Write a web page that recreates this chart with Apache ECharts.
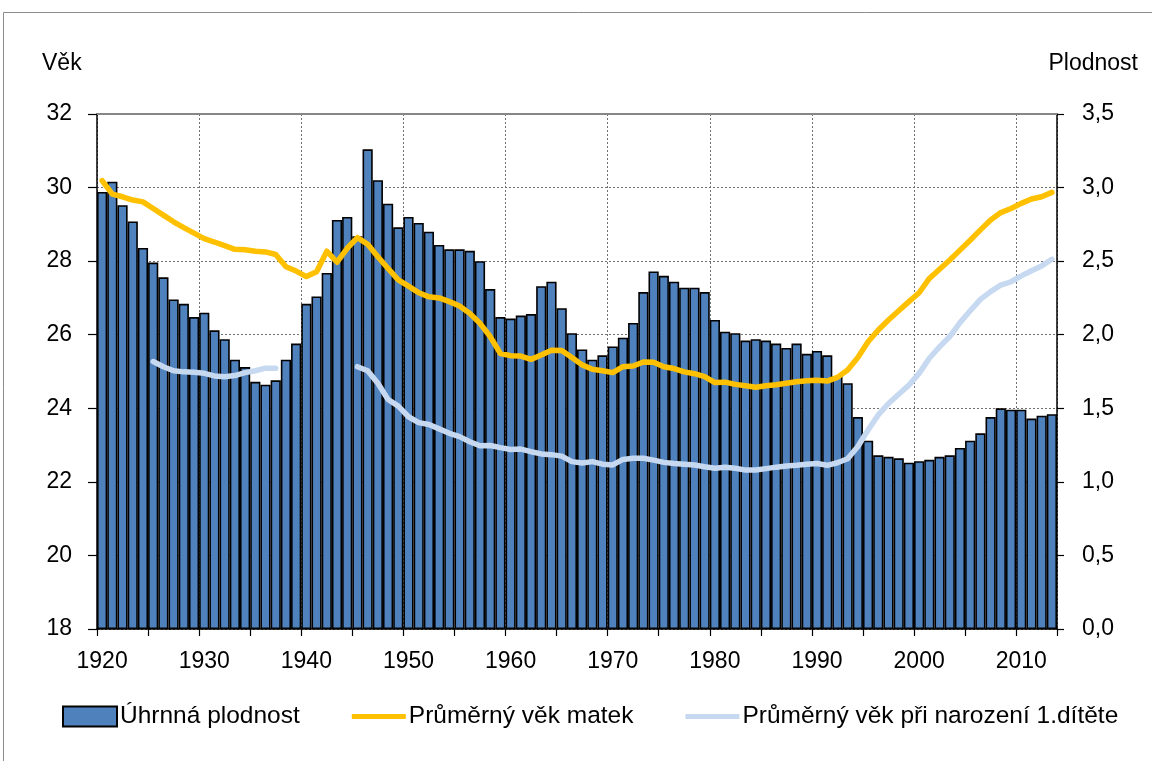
<!DOCTYPE html>
<html>
<head>
<meta charset="utf-8">
<script src="https://cdn.jsdelivr.net/npm/echarts@6/dist/echarts.min.js"></script>
<style>
html,body{margin:0;padding:0;background:#fff;}
#chart{width:1152px;height:761px;}
</style>
</head>
<body>
<div id="chart"></div>
<script>
var years = ["1920","1921","1922","1923","1924","1925","1926","1927","1928","1929",
"1930","1931","1932","1933","1934","1935","1936","1937","1938","1939",
"1940","1941","1942","1943","1944","1945","1946","1947","1948","1949",
"1950","1951","1952","1953","1954","1955","1956","1957","1958","1959",
"1960","1961","1962","1963","1964","1965","1966","1967","1968","1969",
"1970","1971","1972","1973","1974","1975","1976","1977","1978","1979",
"1980","1981","1982","1983","1984","1985","1986","1987","1988","1989",
"1990","1991","1992","1993","1994","1995","1996","1997","1998","1999",
"2000","2001","2002","2003","2004","2005","2006","2007","2008","2009",
"2010","2011","2012","2013"];

var uhrnnaPlodnost = [2.97,3.04,2.88,2.77,2.59,2.49,2.39,2.24,2.21,2.12,
2.15,2.03,1.97,1.83,1.78,1.68,1.66,1.69,1.83,1.94,
2.21,2.26,2.42,2.78,2.80,2.67,3.26,3.05,2.89,2.73,
2.80,2.76,2.70,2.61,2.58,2.58,2.57,2.50,2.31,2.12,
2.11,2.13,2.14,2.33,2.36,2.18,2.01,1.90,1.83,1.86,
1.92,1.98,2.08,2.29,2.43,2.40,2.36,2.32,2.32,2.29,
2.10,2.02,2.01,1.96,1.97,1.96,1.94,1.91,1.94,1.87,
1.89,1.86,1.72,1.67,1.44,1.28,1.18,1.17,1.16,1.13,
1.14,1.15,1.17,1.18,1.23,1.28,1.33,1.44,1.50,1.49,
1.49,1.43,1.45,1.46];

var vekMatek = [30.19,29.82,29.75,29.66,29.61,29.43,29.25,29.07,28.91,28.76,
28.61,28.52,28.42,28.32,28.31,28.27,28.25,28.18,27.85,27.73,
27.58,27.71,28.27,27.97,28.35,28.64,28.46,28.12,27.80,27.49,
27.32,27.14,27.03,27.00,26.90,26.78,26.58,26.31,25.95,25.49,
25.43,25.42,25.33,25.45,25.58,25.57,25.38,25.18,25.06,25.02,
24.97,25.13,25.15,25.26,25.25,25.13,25.08,24.99,24.94,24.86,
24.70,24.71,24.65,24.61,24.57,24.61,24.64,24.68,24.72,24.75,
24.76,24.74,24.84,25.04,25.38,25.81,26.13,26.40,26.65,26.90,
27.14,27.53,27.78,28.03,28.30,28.57,28.85,29.12,29.32,29.43,
29.57,29.69,29.75,29.87];

var vekPrvniDite = [null,null,null,null,null,25.27,25.13,25.02,24.99,24.98,
24.95,24.88,24.86,24.89,24.97,25.02,25.09,25.09,null,null,
null,null,null,null,null,25.13,25.02,24.68,24.24,24.06,
23.77,23.61,23.56,23.44,23.32,23.23,23.09,22.98,22.99,22.93,
22.88,22.89,22.82,22.76,22.74,22.70,22.55,22.51,22.55,22.48,
22.46,22.61,22.64,22.64,22.59,22.53,22.50,22.48,22.46,22.41,
22.37,22.40,22.37,22.32,22.32,22.36,22.40,22.43,22.45,22.48,
22.50,22.45,22.52,22.63,22.96,23.41,23.82,24.13,24.38,24.63,
24.95,25.36,25.67,25.95,26.33,26.65,26.96,27.17,27.35,27.44,
27.60,27.74,27.87,28.05];

var seriesNames = ["Úhrnná plodnost","Průměrný věk matek","Průměrný věk při narození 1.dítěte"];
var axisTitles = ["Věk","Plodnost"];

var FONT = '"Liberation Sans", Arial, sans-serif';
var chart = echarts.init(document.getElementById('chart'), null, {renderer:'canvas'});
var option = {
  animation: false,
  backgroundColor: '#ffffff',
  textStyle: {fontFamily: FONT, color: '#000'},
  title: [
    {text: axisTitles[0], left: 37, top: 47, padding: 5, textStyle: {fontFamily: FONT, fontSize: 23, fontWeight: 'normal', color: '#000'}},
    {text: axisTitles[1], right: 9, top: 47, padding: 5, textStyle: {fontFamily: FONT, fontSize: 23, fontWeight: 'normal', color: '#000'}}
  ],
  graphic: [{
    type: 'rect', shape: {x: 3.5, y: 12.5, width: 1300, height: 900},
    style: {fill: 'none', stroke: '#8c8c8c', lineWidth: 1}, silent: true
  }],
  grid: {left: 97, right: 95, top: 114, bottom: 132, containLabel: false},
  legend: {
    left: 62, top: 704, padding: 0, itemWidth: 54, itemHeight: 20, itemGap: 52,
    textStyle: {fontFamily: FONT, fontSize: 24.5, color: '#000', padding: [0, 0, 0, -2]},
    data: [
      {name: seriesNames[0], icon: 'rect'},
      {name: seriesNames[1], icon: 'path://M0,0 L54,0 L54,5 L0,5 Z'},
      {name: seriesNames[2], icon: 'path://M0,0 L54,0 L54,5 L0,5 Z'}
    ]
  },
  xAxis: [{
    type: 'category', data: years, boundaryGap: true, position: 'bottom',
    axisLine: {show: true, lineStyle: {color: '#000', width: 1.5}},
    axisTick: {show: true, interval: 4, length: 7, inside: false, lineStyle: {color: '#000', width: 1.2}},
    axisLabel: {interval: 9, margin: 21, fontSize: 23, fontFamily: FONT, color: '#000'},
    splitLine: {show: true, interval: 9, lineStyle: {color: '#707070', width: 1, type: [2, 2]}}
  }, {
    type: 'category', data: years, position: 'top', boundaryGap: true,
    axisLine: {show: true, lineStyle: {color: '#868686', width: 2}},
    axisTick: {show: false}, axisLabel: {show: false}, splitLine: {show: false}
  }],
  yAxis: [{
    type: 'value', min: 18, max: 32, interval: 2, position: 'left',
    axisLine: {show: true, lineStyle: {color: '#000', width: 1.5}},
    axisTick: {show: true, length: 9, lineStyle: {color: '#000', width: 1.2}},
    axisLabel: {margin: 25, fontSize: 23, fontFamily: FONT, color: '#000'},
    splitLine: {show: true, lineStyle: {color: '#707070', width: 1, type: [2, 2]}}
  }, {
    type: 'value', min: 0, max: 3.5, interval: 0.5, position: 'right',
    axisLine: {show: true, lineStyle: {color: '#000', width: 1.5}},
    axisTick: {show: true, length: 7, lineStyle: {color: '#000', width: 1.2}},
    axisLabel: {margin: 25, fontSize: 23, fontFamily: FONT, color: '#000',
      formatter: function (v) { return v.toFixed(1).replace('.', ','); }},
    splitLine: {show: false}
  }],
  series: [{
    name: seriesNames[0], type: 'bar', xAxisIndex: 0, yAxisIndex: 1, data: uhrnnaPlodnost,
    barCategoryGap: '0%', barGap: '0%',
    itemStyle: {color: '#4F81BD', borderColor: '#000', borderWidth: 1.6}
  }, {
    name: seriesNames[1], type: 'line', xAxisIndex: 0, yAxisIndex: 0, data: vekMatek,
    showSymbol: false, symbol: 'none', smooth: false,
    itemStyle: {color: '#FFC000'},
    lineStyle: {color: '#FFC000', width: 5.5, cap: 'round', join: 'round'}
  }, {
    name: seriesNames[2], type: 'line', xAxisIndex: 0, yAxisIndex: 0, data: vekPrvniDite,
    showSymbol: false, symbol: 'none', smooth: false, connectNulls: false,
    itemStyle: {color: '#C6D9F1'},
    lineStyle: {color: '#C6D9F1', width: 5.5, cap: 'round', join: 'round'}
  }]
};
chart.setOption(option);
</script>
</body>
</html>
